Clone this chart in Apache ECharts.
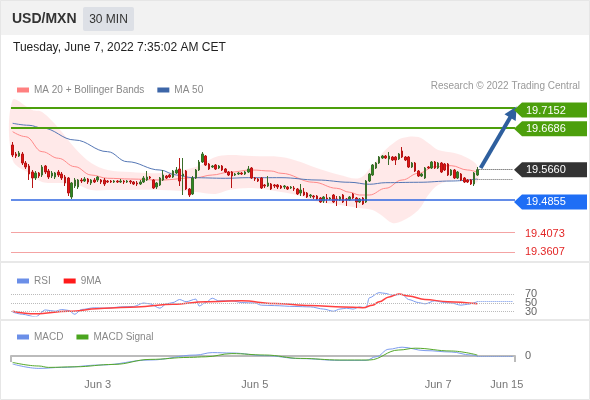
<!DOCTYPE html>
<html>
<head>
<meta charset="utf-8">
<title>USD/MXN 30 MIN</title>
<script src="https://cdn.jsdelivr.net/npm/echarts@6/dist/echarts.min.js"></script>
<style>
  html, body { margin: 0; padding: 0; background: #fff; }
  #chart { width: 590px; height: 400px; }
</style>
</head>
<body>
<div id="chart"></div>
<script>
// slots on the time axis: 143 half-hour candles, then empty room on the right
var candleCount = 143;
var slotCount = 154;
var dateLabels = ['Jun 3', 'Jun 5', 'Jun 7', 'Jun 15'];
var dateLabelSlots = [26, 74, 130, 151];

var opens = [
  19.6277,19.6052,19.6002,19.6052,19.5827,19.5752,19.5602,19.5452,19.5577,19.5527,
  19.5752,19.5627,19.5502,19.5477,19.5602,19.5552,19.5477,19.5452,19.4977,19.5252,
  19.5227,19.5402,19.5377,19.5427,19.5327,19.5402,19.5402,19.5402,19.5402,19.5377,
  19.5377,19.5352,19.5377,19.5352,19.5377,19.5352,19.5377,19.5352,19.5327,19.5302,
  19.5352,19.5402,19.5477,19.5402,19.5227,19.5277,19.5402,19.5502,19.5527,19.5477,
  19.5577,19.5677,19.5502,19.5627,19.5177,19.5052,19.5452,19.5652,19.5852,19.6002,
  19.5802,19.5727,19.5777,19.5702,19.5752,19.5677,19.5602,19.5602,19.5527,19.5552,
  19.5577,19.5552,19.5602,19.5702,19.5452,19.5427,19.5452,19.5277,19.5252,19.5302,
  19.5277,19.5277,19.5252,19.5227,19.5227,19.5202,19.5202,19.5177,19.5077,19.5102,
  19.5077,19.5002,19.5002,19.5002,19.4952,19.4877,19.4952,19.4927,19.5027,19.4927,
  19.4902,19.5027,19.4927,19.4902,19.5052,19.4952,19.4852,19.4952,19.4852,19.5377,
  19.5527,19.5702,19.5827,19.5952,19.6002,19.5927,19.5977,19.5977,19.5927,19.6127,
  19.5977,19.5977,19.5727,19.5827,19.5627,19.5502,19.5452,19.5727,19.5702,19.5852,
  19.5702,19.5827,19.5802,19.5802,19.5527,19.5652,19.5452,19.5552,19.5452,19.5402,
  19.5402,19.5302,19.5527
];
var closes = [
  19.6027,19.6002,19.6077,19.5827,19.5727,19.5552,19.5452,19.5577,19.5502,19.5727,
  19.5602,19.5477,19.5577,19.5577,19.5527,19.5452,19.5327,19.5077,19.5327,19.5402,
  19.5402,19.5377,19.5427,19.5352,19.5402,19.5352,19.5477,19.5352,19.5302,19.5352,
  19.5352,19.5377,19.5352,19.5377,19.5352,19.5377,19.5352,19.5302,19.5302,19.5352,
  19.5452,19.5477,19.5452,19.5202,19.5327,19.5452,19.5527,19.5452,19.5477,19.5627,
  19.5652,19.5377,19.5552,19.5177,19.5027,19.5452,19.5652,19.5852,19.6052,19.5777,
  19.5677,19.5752,19.5677,19.5752,19.5652,19.5602,19.5527,19.5502,19.5552,19.5577,
  19.5552,19.5602,19.5677,19.5452,19.5427,19.5377,19.5202,19.5252,19.5327,19.5177,
  19.5252,19.5227,19.5202,19.5252,19.5177,19.5227,19.5177,19.5052,19.5152,19.5027,
  19.4977,19.5027,19.4977,19.4927,19.4852,19.4977,19.4927,19.4952,19.4852,19.4902,
  19.4977,19.4852,19.4902,19.4977,19.4952,19.4852,19.4927,19.4802,19.5377,19.5552,
  19.5777,19.5827,19.5977,19.6002,19.5952,19.6002,19.5902,19.5902,19.6052,19.5977,
  19.5902,19.5727,19.5827,19.5627,19.5502,19.5552,19.5702,19.5702,19.5852,19.5702,
  19.5827,19.5602,19.5652,19.5527,19.5652,19.5452,19.5602,19.5402,19.5352,19.5352,
  19.5302,19.5577,19.5660
];
var lows = [
  19.5977,19.5952,19.5977,19.5777,19.5677,19.5402,19.5202,19.5402,19.5452,19.5477,
  19.5552,19.5427,19.5452,19.5427,19.5477,19.5402,19.5252,19.5002,19.4927,19.5202,
  19.5177,19.5327,19.5352,19.5302,19.5277,19.5327,19.5352,19.5302,19.5252,19.5327,
  19.5327,19.5327,19.5327,19.5327,19.5302,19.5327,19.5302,19.5277,19.5252,19.5277,
  19.5327,19.5377,19.5427,19.5177,19.5177,19.5252,19.5377,19.5427,19.5452,19.5452,
  19.5552,19.5252,19.5027,19.5152,19.4977,19.5027,19.5427,19.5627,19.5827,19.5752,
  19.5652,19.5702,19.5652,19.5677,19.5627,19.5577,19.5502,19.5202,19.5502,19.5527,
  19.5527,19.5527,19.5577,19.5427,19.5377,19.5352,19.5177,19.5202,19.5227,19.5152,
  19.5202,19.5177,19.5177,19.5177,19.5152,19.5177,19.5127,19.5027,19.5002,19.5002,
  19.4952,19.4952,19.4927,19.4902,19.4827,19.4827,19.4827,19.4902,19.4827,19.4752,
  19.4877,19.4827,19.4752,19.4877,19.4927,19.4702,19.4827,19.4777,19.4827,19.5352,
  19.5502,19.5677,19.5802,19.5927,19.5927,19.5777,19.5877,19.5777,19.5902,19.5952,
  19.5877,19.5702,19.5702,19.5602,19.5477,19.5477,19.5427,19.5677,19.5677,19.5677,
  19.5677,19.5577,19.5627,19.5502,19.5502,19.5427,19.5427,19.5377,19.5327,19.5327,
  19.5277,19.5252,19.5502
];
var highs = [
  19.6352,19.6102,19.6127,19.6102,19.5877,19.5802,19.5652,19.5627,19.5602,19.5777,
  19.5777,19.5677,19.5627,19.5602,19.5652,19.5602,19.5527,19.5477,19.5352,19.5452,
  19.5427,19.5452,19.5477,19.5452,19.5427,19.5452,19.5502,19.5427,19.5452,19.5402,
  19.5402,19.5402,19.5402,19.5427,19.5402,19.5402,19.5402,19.5377,19.5377,19.5402,
  19.5502,19.5627,19.5502,19.5427,19.5352,19.5477,19.5652,19.5527,19.5552,19.5652,
  19.5727,19.5952,19.5952,19.5652,19.5202,19.5502,19.5677,19.5902,19.6102,19.6027,
  19.5827,19.5777,19.5802,19.5777,19.5777,19.5702,19.5627,19.5627,19.5577,19.5602,
  19.5602,19.5627,19.5752,19.5727,19.5477,19.5452,19.5477,19.5302,19.5502,19.5327,
  19.5302,19.5302,19.5277,19.5277,19.5252,19.5252,19.5252,19.5202,19.5302,19.5202,
  19.5102,19.5052,19.5027,19.5027,19.4977,19.5002,19.5052,19.4977,19.5052,19.5002,
  19.5002,19.5052,19.4952,19.5002,19.5077,19.4977,19.4952,19.4977,19.5402,19.5577,
  19.5802,19.5852,19.6002,19.6027,19.6027,19.6102,19.6002,19.6002,19.6077,19.6227,
  19.6002,19.6002,19.5852,19.5852,19.5652,19.5577,19.5727,19.5752,19.5877,19.5877,
  19.5852,19.5852,19.5827,19.5827,19.5677,19.5677,19.5627,19.5577,19.5477,19.5427,
  19.5427,19.5602,19.5727
];

// moving averages and Bollinger envelope at these slots
var ma20Idx = [0,4,9,14,19,24,29,36,45,56,61,66,73,79,82,92,99,103,106,109,114,119,124,129,134,139,142];
var ma20Val = [19.6610,19.6485,19.6110,19.5945,19.5735,19.5527,19.5445,19.5427,19.5402,19.5460,
  19.5527,19.5595,19.5652,19.5627,19.5570,19.5345,19.5195,19.5095,19.5027,19.5027,
  19.5195,19.5402,19.5570,19.5735,19.5760,19.5652,19.5595];
var ma50Idx = [0,5,9,19,29,35,45,50,55,65,72,82,93,103,109,114,124,134,142];
var ma50Val = [19.6820,19.6770,19.6702,19.6402,19.6110,19.5860,19.5652,19.5527,19.5460,19.5445,
  19.5460,19.5460,19.5402,19.5345,19.5295,19.5335,19.5345,19.5377,19.5427];
var bandIdx = [0,6,9,14,19,24,29,36,45,56,62,66,73,82,88,92,100,106,110,113,116,119,124,127,130,135,139,142];
var bandUpper = [19.7402,19.7152,19.7102,19.6702,19.6202,19.5827,19.5652,19.5602,19.5577,19.5727,
  19.5977,19.6027,19.6002,19.5977,19.5852,19.5727,19.5527,19.5452,19.5777,19.6077,
  19.6302,19.6452,19.6477,19.6327,19.6152,19.6077,19.5952,19.5752];
var bandLower = [19.5902,19.5527,19.5352,19.5327,19.5302,19.5152,19.5152,19.5152,19.5152,19.5102,
  19.5052,19.5152,19.5202,19.5102,19.5002,19.4877,19.4777,19.4702,19.4652,19.4502,
  19.4327,19.4377,19.4652,19.5027,19.5277,19.5402,19.5377,19.5352];

// RSI and its 9-period average
var rsiIdx = [0,3,7,10,13,15,17,19,21,25,28,30,33,37,40,42,45,47,49,51,53,56,57,59,61,63,67,70,74,76,
  80,86,91,95,98,100,102,104,106,108,109,112,114,116,119,121,124,126,129,132,134,137,139,142];
var rsiVal = [29,24,18,34,31,35,33,24,35,39,38,39,41,42,50,48,38,48,51,58,53,59,43,51,61,55,55,51,50,45,
  44,42,41,36,31,36,38,36,41,39,62,74,72,68,70,58,51,48,55,51,50,45,47,53];
var rsiMaIdx = [0,7,17,28,38,49,59,70,80,91,101,107,110,112,115,118,121,126,133,142];
var rsiMaVal = [31,25,31,38,41,47,53,55,49,44,41,39,45,53,64,71,66,58,53,48];
var rsiLevels = [70, 50, 30];

// MACD and signal
var macdIdx = [0,8,15,27,42,56,61,67,77,88,100,108,111,115,119,126,134,140,142];
var macdVal = [-0.0040,-0.0062,-0.0057,-0.0045,-0.0020,0.0005,0.0017,0.0015,0.0002,-0.0013,
  -0.0022,-0.0022,-0.0004,0.0034,0.0044,0.0027,0.0020,0.0005,0.0000];
var signalIdx = [0,8,11,19,31,42,54,59,67,77,88,100,109,118,123,134,142];
var signalVal = [-0.0032,-0.0050,-0.0057,-0.0054,-0.0042,-0.0017,-0.0007,-0.0004,0.0012,0.0005,
  -0.0012,-0.0020,-0.0020,0.0030,0.0039,0.0025,0.0005];

// Trading Central levels
var resistances = [19.7152, 19.6686];
var pivot = 19.5660;
var supports = [19.4855, 19.4073, 19.3607];
var arrowFrom = 19.5702, arrowTo = 19.7102;

var FONT = '"Liberation Sans", Arial, sans-serif';
var chart = echarts.init(document.getElementById('chart'));

var cats = [];
for (var i = 0; i < slotCount; i++) cats.push(String(i));
var labelAt = {};
dateLabelSlots.forEach(function (s, k) { labelAt[s] = dateLabels[k]; });

function pairs(xs, ys) { return xs.map(function (x, k) { return [x, ys[k]]; }); }

var candles = closes.map(function (c, k) { return [opens[k], c, lows[k], highs[k]]; });
var last = candleCount - 1;
var end = slotCount - 1;
var dotted = function (color) { return { color: color, type: 'dotted', width: 1 }; };

function xAxisFor(g, shown) {
  return {
    type: 'category', gridIndex: g, data: cats, boundaryGap: true, show: shown,
    axisLine: { show: shown, lineStyle: { color: '#bbb', width: 2 } },
    axisTick: { show: shown, length: 6, lineStyle: { color: '#bbb', width: 2 },
      interval: function (idx) { return idx === 0; } },
    axisLabel: { show: shown, interval: 0, color: '#777', fontSize: 11, fontFamily: FONT, margin: 7,
      formatter: function (v) { return labelAt[Number(v)] || ''; } },
    splitLine: { show: false }
  };
}

var option = {
  animation: false,
  backgroundColor: '#fff',
  textStyle: { fontFamily: FONT },
  legend: [
    { data: ['MA 20 + Bollinger Bands', 'MA 50'], left: 12, top: 80 },
    { data: ['RSI', '9MA'], left: 12, top: 271 },
    { data: ['MACD', 'MACD Signal'], left: 12, top: 327 }
  ].map(function (l) {
    return Object.assign({ icon: 'rect', itemWidth: 12, itemHeight: 5, itemGap: 13, selectedMode: false,
      textStyle: { color: '#888', fontSize: 10, fontFamily: FONT } }, l);
  }),
  grid: [
    { left: 11, right: 75, top: 100, height: 160 },
    { left: 11, right: 75, top: 290, height: 26 },
    { left: 11, right: 75, top: 340, height: 32 }
  ],
  xAxis: [xAxisFor(0, false), xAxisFor(1, false), xAxisFor(2, true)],
  yAxis: [
    { gridIndex: 0, min: 19.3402, max: 19.7402, show: false },
    { gridIndex: 1, min: 20, max: 80, interval: 10, position: 'right',
      axisLine: { show: false }, axisTick: { show: false }, splitLine: { show: false },
      axisLabel: { color: '#666', fontSize: 11, margin: 10,
        formatter: function (v) { return rsiLevels.indexOf(v) >= 0 ? String(v) : ''; } } },
    { gridIndex: 2, min: -0.008, max: 0.008, interval: 0.008, position: 'right',
      axisLine: { show: false }, axisTick: { show: false }, splitLine: { show: false },
      axisLabel: { color: '#666', fontSize: 11, margin: 10,
        formatter: function (v) { return Math.abs(v) < 1e-9 ? '0' : ''; } } }
  ],
  series: [
    {
      type: 'custom', name: 'band', xAxisIndex: 0, yAxisIndex: 0, z: 1, silent: true,
      data: [[0, bandUpper[0]]],
      renderItem: function (params, api) {
        var up = bandIdx.map(function (x, k) { return api.coord([x, bandUpper[k]]); });
        var lo = bandIdx.map(function (x, k) { return api.coord([x, bandLower[k]]); }).reverse();
        return { type: 'polygon', shape: { points: up.concat(lo), smooth: 0.35 },
          style: { fill: 'rgba(255,110,110,0.15)' } };
      }
    },
    {
      type: 'line', name: 'MA 20 + Bollinger Bands', xAxisIndex: 0, yAxisIndex: 0, z: 2,
      data: pairs(ma20Idx, ma20Val), smooth: 0.4, smoothMonotone: 'x', showSymbol: false,
      color: '#ff8080', lineStyle: { width: 1, color: '#ff8a8a' }
    },
    {
      type: 'line', name: 'MA 50', xAxisIndex: 0, yAxisIndex: 0, z: 2,
      data: pairs(ma50Idx, ma50Val), smooth: 0.4, smoothMonotone: 'x', showSymbol: false,
      color: '#3d66a8', lineStyle: { width: 1, color: '#5577b5' }
    },
    {
      type: 'candlestick', name: 'USD/MXN', xAxisIndex: 0, yAxisIndex: 0, z: 3,
      data: candles, barWidth: 2,
      itemStyle: { color: '#2f8a1f', color0: '#e01515', borderColor: '#3a6e2a', borderColor0: '#b81414', borderWidth: 1 },
      markLine: {
        silent: true, symbol: ['none', 'none'], label: { show: false },
        data: [
          { yAxis: resistances[0], lineStyle: { color: '#4c9f0c', width: 2, type: 'solid' } },
          { yAxis: resistances[1], lineStyle: { color: '#4c9f0c', width: 2, type: 'solid' } },
          { yAxis: supports[0], lineStyle: { color: '#2f66e0', width: 1.5, type: 'solid' } },
          { yAxis: supports[1], lineStyle: { color: '#f4a3a3', width: 1, type: 'solid' } },
          { yAxis: supports[2], lineStyle: { color: '#f4a3a3', width: 1, type: 'solid' } },
          [{ coord: [last, pivot], lineStyle: dotted('#444') }, { coord: [end, pivot], lineStyle: dotted('#444') }],
          [{ coord: [last, ma50Val[ma50Val.length - 1]], lineStyle: dotted('#666') },
           { coord: [end, ma50Val[ma50Val.length - 1]], lineStyle: dotted('#666') }],
          [{ coord: [last + 1, arrowFrom], symbol: 'none', lineStyle: { color: '#2e5f9e', width: 4, type: 'solid' } },
           { coord: [end, arrowTo], symbol: 'triangle', symbolSize: [13, 13],
             lineStyle: { color: '#2e5f9e', width: 4, type: 'solid' }, itemStyle: { color: '#2e5f9e' } }]
        ]
      }
    },
    {
      type: 'line', name: 'RSI', xAxisIndex: 1, yAxisIndex: 1, z: 3,
      data: pairs(rsiIdx, rsiVal), smooth: 0.3, smoothMonotone: 'x', showSymbol: false,
      color: '#6b8fe8', lineStyle: { width: 1, color: '#7d9cee' },
      markLine: {
        silent: true, symbol: ['none', 'none'], label: { show: false },
        data: rsiLevels.map(function (v) { return { yAxis: v, lineStyle: dotted('#bbb') }; }).concat([
          [{ coord: [last, rsiVal[rsiVal.length - 1]], lineStyle: dotted('#6b8fe8') },
           { coord: [end, rsiVal[rsiVal.length - 1]], lineStyle: dotted('#6b8fe8') }]
        ])
      }
    },
    {
      type: 'line', name: '9MA', xAxisIndex: 1, yAxisIndex: 1, z: 4,
      data: pairs(rsiMaIdx, rsiMaVal), smooth: 0.4, smoothMonotone: 'x', showSymbol: false,
      color: '#ff1a1a', lineStyle: { width: 1.5, color: '#ff4040' }
    },
    {
      type: 'line', name: 'MACD', xAxisIndex: 2, yAxisIndex: 2, z: 3,
      data: pairs(macdIdx, macdVal), smooth: 0.4, smoothMonotone: 'x', showSymbol: false,
      color: '#6b8fe8', lineStyle: { width: 1, color: '#7d9cee' },
      markLine: {
        silent: true, symbol: ['none', 'none'], label: { show: false },
        data: [[{ coord: [last, macdVal[macdVal.length - 1]], lineStyle: dotted('#6b8fe8') },
                { coord: [end, macdVal[macdVal.length - 1]], lineStyle: dotted('#6b8fe8') }]]
      }
    },
    {
      type: 'line', name: 'MACD Signal', xAxisIndex: 2, yAxisIndex: 2, z: 4,
      data: pairs(signalIdx, signalVal), smooth: 0.4, smoothMonotone: 'x', showSymbol: false,
      color: '#4aa51e', lineStyle: { width: 1, color: '#55a82a' }
    }
  ]
};
chart.setOption(option);

// header, separators and the level tags on the right edge
var yOf = function (v) { return chart.convertToPixel({ yAxisIndex: 0 }, v); };
var graphics = [
  { type: 'rect', shape: { x: 0, y: 0, width: 590, height: 35 }, style: { fill: '#f2f2f2' }, z: 0 },
  { type: 'rect', shape: { x: 0.5, y: 0.5, width: 589, height: 399 }, style: { fill: null, stroke: '#e6e6e6', lineWidth: 1 } },
  { type: 'text', x: 12, y: 19, style: { text: 'USD/MXN', font: 'bold 14px ' + FONT, fill: '#333', verticalAlign: 'middle' } },
  { type: 'rect', shape: { x: 83, y: 7, width: 51, height: 24, r: 2 }, style: { fill: '#dde0e6' } },
  { type: 'text', x: 108.5, y: 19.5, style: { text: '30 MIN', font: '12px ' + FONT, fill: '#333', align: 'center', verticalAlign: 'middle' } },
  { type: 'text', x: 13, y: 48, style: { text: 'Tuesday, June 7, 2022 7:35:02 AM CET', font: '12px ' + FONT, fill: '#222', verticalAlign: 'middle' } },
  { type: 'text', x: 580, y: 86, style: { text: 'Research \u00a9 2022 Trading Central', font: '10px ' + FONT, fill: '#999', align: 'right', verticalAlign: 'middle' } },
  { type: 'line', shape: { x1: 0, y1: 262, x2: 590, y2: 262 }, style: { stroke: '#e8e8e8', lineWidth: 2 } },
  { type: 'line', shape: { x1: 0, y1: 320, x2: 590, y2: 320 }, style: { stroke: '#e8e8e8', lineWidth: 2 } }
];
function tag(v, fill) {
  var y = yOf(v);
  graphics.push({ type: 'polygon', z: 10,
    shape: { points: [[514, y], [522, y - 7.5], [587, y - 7.5], [587, y + 7.5], [522, y + 7.5]] },
    style: { fill: fill } });
  graphics.push({ type: 'text', z: 11, x: 526, y: y + 0.5,
    style: { text: v.toFixed(4), font: '11px ' + FONT, fill: '#fff', verticalAlign: 'middle' } });
}
function plain(v, color) {
  graphics.push({ type: 'text', z: 11, x: 525, y: yOf(v) + 0.5,
    style: { text: v.toFixed(4), font: '11px ' + FONT, fill: color, verticalAlign: 'middle' } });
}
tag(resistances[0], '#4c9f0c');
tag(resistances[1], '#4c9f0c');
tag(pivot, '#333333');
tag(supports[0], '#1f6ef5');
plain(supports[1], '#e32626');
plain(supports[2], '#e32626');
chart.setOption({ graphic: graphics });
</script>
</body>
</html>
